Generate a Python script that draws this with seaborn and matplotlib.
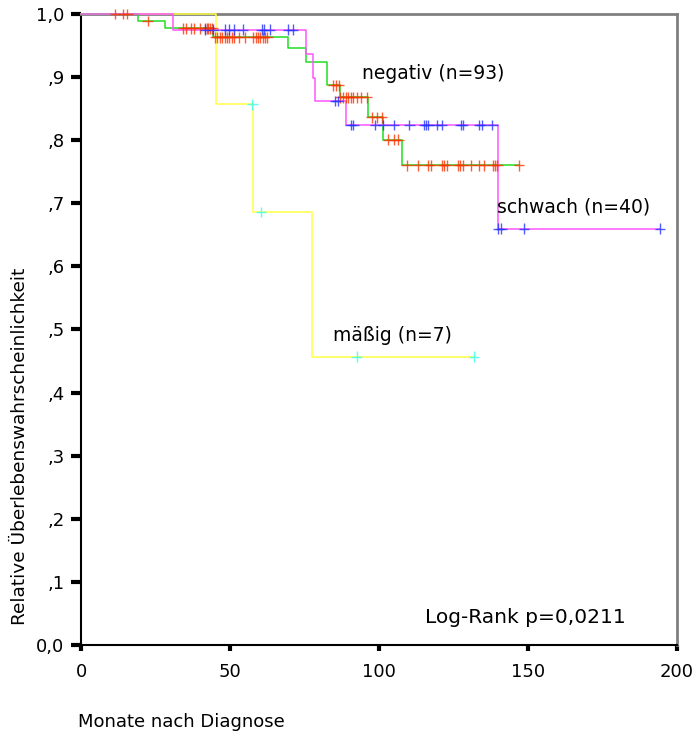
import matplotlib
matplotlib.use("Agg")
import matplotlib.pyplot as plt
import numpy as np
import pandas as pd
import seaborn as sns

# Kaplan-Meier step points (months, survival), per group
neg_times = [0, 19.2, 28.2, 44.2, 69.4, 75.5, 82.4, 86.8, 96.2, 101.4, 107.6, 147.0]
neg_surv = [1.0, 0.989, 0.977, 0.963, 0.946, 0.924, 0.887, 0.868, 0.836, 0.801, 0.760, 0.760]
neg_censor = [11.4, 14.1, 15.5, 22.4, 34.3, 35.2, 36.9, 37.9, 39.9, 41.6, 42.2, 42.7, 43.3, 44.0,
              45.0, 45.8, 46.6, 47.4, 48.2, 49.0, 49.8, 50.6, 51.5, 53.0, 55.0, 57.8, 58.7,
              59.5, 60.1, 61.0, 61.7, 62.5, 84.7, 85.6, 86.5, 86.9, 88.0, 88.8, 89.7, 90.5,
              91.4, 92.5, 93.9, 95.9, 97.5, 99.2, 100.9, 103.1, 105.1, 106.5, 109.3, 113.0,
              116.5, 117.3, 121.0, 121.8, 122.7, 126.4, 127.2, 128.1, 130.9, 133.7, 135.2,
              138.2, 138.9, 139.7, 147.0]

sch_times = [0, 31.0, 75.5, 77.9, 78.5, 88.8, 139.8, 194.3]
sch_surv = [1.0, 0.975, 0.937, 0.898, 0.862, 0.824, 0.660, 0.660]
sch_censor = [41.6, 44.4, 48.3, 49.8, 51.4, 54.3, 60.6, 61.4, 63.4, 69.6, 71.0, 85.2, 86.1,
              90.5, 91.4, 98.7, 101.4, 105.0, 110.2, 115.1, 115.8, 116.5, 119.4, 121.0,
              127.4, 128.1, 133.7, 134.5, 138.0, 140.0, 141.1, 148.7, 194.3]

mas_times = [0, 45.2, 57.7, 77.4, 131.9]
mas_surv = [1.0, 0.857, 0.686, 0.457, 0.457]
mas_censor = [57.5, 60.4, 92.5, 131.9]

GROUPS = ["mäßig", "negativ", "schwach"]  # drawing order
LINE_COLORS = {"negativ": "#22dd22", "schwach": "#ff55ff", "mäßig": "#ffff44"}
CENSOR_COLORS = {"negativ": "#ff3300", "schwach": "#2233ff", "mäßig": "#33ffee"}

Y_TICKS = [0.0, 0.1, 0.2, 0.3, 0.4, 0.5, 0.6, 0.7, 0.8, 0.9, 1.0]
Y_LABELS = ["0,0", ",1", ",2", ",3", ",4", ",5", ",6", ",7", ",8", ",9", "1,0"]
X_TICKS = [0, 50, 100, 150, 200]
X_LABELS = ["0", "50", "100", "150", "200"]


def level_at(times, surv, t):
    idx = np.searchsorted(times, t, side="right") - 1
    return np.asarray(surv)[idx]


def main():
    data = {
        "negativ": (neg_times, neg_surv, neg_censor),
        "schwach": (sch_times, sch_surv, sch_censor),
        "mäßig": (mas_times, mas_surv, mas_censor),
    }
    steps = pd.concat([pd.DataFrame({"month": t, "surv": s, "group": g})
                       for g, (t, s, c) in data.items()])
    cens = pd.concat([pd.DataFrame({"month": c, "surv": level_at(t, s, c), "group": g})
                      for g, (t, s, c) in data.items()])

    sns.set_style("white")
    plt.rcParams["font.family"] = ["DejaVu Sans"]
    plt.rcParams["text.color"] = "black"
    plt.rcParams["xtick.color"] = "black"
    plt.rcParams["ytick.color"] = "black"

    fig = plt.figure(figsize=(6.99, 7.43), dpi=100)
    ax = fig.add_axes([0.1159, 0.1319, 0.8526, 0.8493])

    sns.lineplot(data=steps, x="month", y="surv", hue="group", hue_order=GROUPS,
                 palette=LINE_COLORS, drawstyle="steps-post", estimator=None,
                 linewidth=1.1, legend=False, ax=ax, clip_on=False, zorder=3)
    sns.scatterplot(data=cens, x="month", y="surv", hue="group", hue_order=GROUPS,
                    palette=CENSOR_COLORS, marker="+", s=60, linewidth=1.0, alpha=0.8,
                    legend=False, ax=ax, clip_on=False, zorder=4)

    ax.set_xlim(0, 200)
    ax.set_ylim(0, 1)
    ax.set_xticks(X_TICKS, X_LABELS)
    ax.set_yticks(Y_TICKS, Y_LABELS)
    ax.set_xlabel("")
    ax.set_ylabel("")
    ax.tick_params(axis="y", direction="out", length=7, width=3, pad=5, labelsize=13,
                   left=True, colors="black")
    ax.tick_params(axis="x", direction="out", length=4, width=3, pad=9, labelsize=13,
                   bottom=True, colors="black")

    for side in ["left", "bottom"]:
        ax.spines[side].set_color("black")
        ax.spines[side].set_linewidth(1.5)
    for side in ["top", "right"]:
        ax.spines[side].set_color("#808080")
        ax.spines[side].set_linewidth(2)

    ax.text(94.3, 0.906, "negativ (n=93)", fontsize=13.5, va="center")
    ax.text(139.6, 0.694, "schwach (n=40)", fontsize=13.5, va="center")
    ax.text(84.6, 0.49, "mäßig (n=7)", fontsize=13.5, va="center")
    ax.text(115.4, 0.043, "Log-Rank p=0,0211", fontsize=14.5, va="center")

    fig.text(20 / 699, 1 - 446 / 743, "Relative Überlebenswahrscheinlichkeit",
             rotation=90, ha="center", va="center", fontsize=13.3)
    fig.text(78 / 699, 1 - 722 / 743, "Monate nach Diagnose",
             ha="left", va="center", fontsize=13)

    fig.savefig("out.png", dpi=100)


if __name__ == "__main__":
    main()
